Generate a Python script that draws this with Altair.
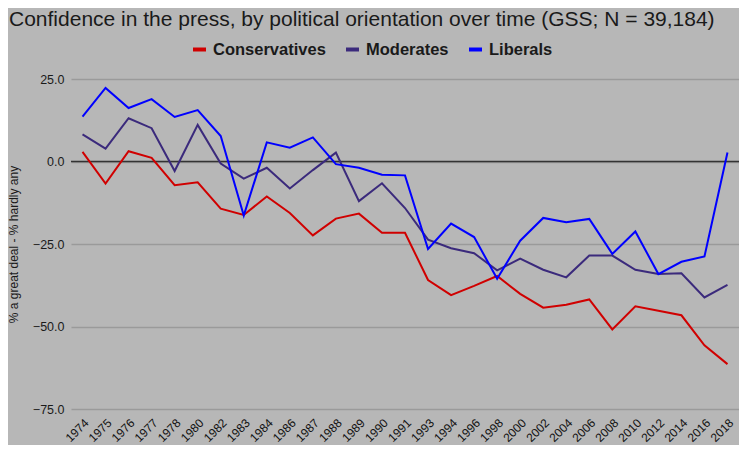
import altair as alt
import pandas as pd

years = ["1974", "1975", "1976", "1977", "1978", "1980", "1982", "1983", "1984", "1986",
         "1987", "1988", "1989", "1990", "1991", "1993", "1994", "1996", "1998", "2000",
         "2002", "2004", "2006", "2008", "2010", "2012", "2014", "2016", "2018"]

conservatives = [2.9, -6.7, 3.1, 1.1, -7.2, -6.3, -14.3, -16.2, -10.6, -15.6,
                 -22.4, -17.3, -15.8, -21.6, -21.6, -35.9, -40.5, -37.7, -34.7, -40.1,
                 -44.3, -43.4, -41.8, -50.9, -43.9, -45.2, -46.6, -55.7, -61.4]
moderates = [8.2, 3.9, 13.1, 10.1, -2.9, 11.1, -0.6, -5.2, -1.9, -8.2,
             -2.6, 2.7, -12.0, -6.6, -14.1, -23.7, -26.3, -27.8, -33.0, -29.4,
             -32.8, -35.1, -28.5, -28.5, -32.8, -34.1, -33.9, -41.2, -37.4]
liberals = [13.6, 22.3, 16.2, 18.9, 13.5, 15.6, 7.7, -16.4, 5.8, 4.2,
            7.3, -0.8, -1.9, -4.0, -4.2, -26.5, -18.8, -22.9, -35.5, -24.0,
            -17.1, -18.4, -17.4, -28.0, -21.2, -34.1, -30.4, -28.8, 2.7]

series_names = ["Conservatives", "Moderates", "Liberals"]
series_colors = ["#d00000", "#3b2a7c", "#0000ff"]
y_ticks = [-75, -50, -25, 0, 25]

rows = []
for name, vals in zip(series_names, [conservatives, moderates, liberals]):
    for yr, v in zip(years, vals):
        rows.append({"year": yr, "series": name, "value": v})
df = pd.DataFrame(rows)

FONT = "Liberation Sans"

lines = alt.Chart(df).mark_line(strokeWidth=2).encode(
    x=alt.X("year:O", sort=years, scale=alt.Scale(padding=0.5),
            axis=alt.Axis(title=None, labelAngle=-45, labelFontSize=12,
                          labelFont=FONT, labelColor="#111111", labelPadding=8,
                          domain=False, ticks=False, grid=False)),
    y=alt.Y("value:Q", scale=alt.Scale(domain=[-75, 25], nice=False),
            axis=alt.Axis(title="% a great deal - % hardly any", values=y_ticks,
                          format=".1f", labelFont=FONT, labelFontSize=12.5,
                          labelColor="#1a1a1a", labelPadding=7,
                          titleFont=FONT, titleFontSize=12, titleFontWeight="normal",
                          titleColor="#1a1a1a", titleX=-51, titleBaseline="bottom",
                          domain=False, ticks=False, grid=True,
                          gridColor="#9a9a9a", gridWidth=1.5)),
    color=alt.Color("series:N", sort=series_names,
                    scale=alt.Scale(domain=series_names, range=series_colors),
                    legend=alt.Legend(title=None, orient="none", direction="horizontal",
                                      legendX=120, legendY=-38, padding=0,
                                      symbolType="stroke", symbolSize=169,
                                      symbolStrokeWidth=4,
                                      labelFont=FONT, labelFontSize=16.5,
                                      labelFontWeight="bold", labelColor="#1a1a1a",
                                      labelOffset=5, columnPadding=12)),
)

zero = alt.Chart(pd.DataFrame({"z": [0]})).mark_rule(color="#333333", strokeWidth=1.5).encode(
    y=alt.Y("z:Q")
)

chart = alt.layer(zero, lines).properties(
    width=668,
    height=330,
    autosize=alt.AutoSizeParams(type="none"),
    padding={"left": 63, "top": 71, "right": 0, "bottom": 36},
    background="#b7b7b7",
    title=alt.TitleParams(
        "Confidence in the press, by political orientation over time (GSS; N = 39,184)",
        anchor="start", frame="group", dx=-62, font=FONT, fontSize=21,
        fontWeight="normal", color="#1a1a1a", offset=11),
).configure_view(stroke=None)

chart.save("out.html", embed_options={"renderer": "svg", "actions": False})
